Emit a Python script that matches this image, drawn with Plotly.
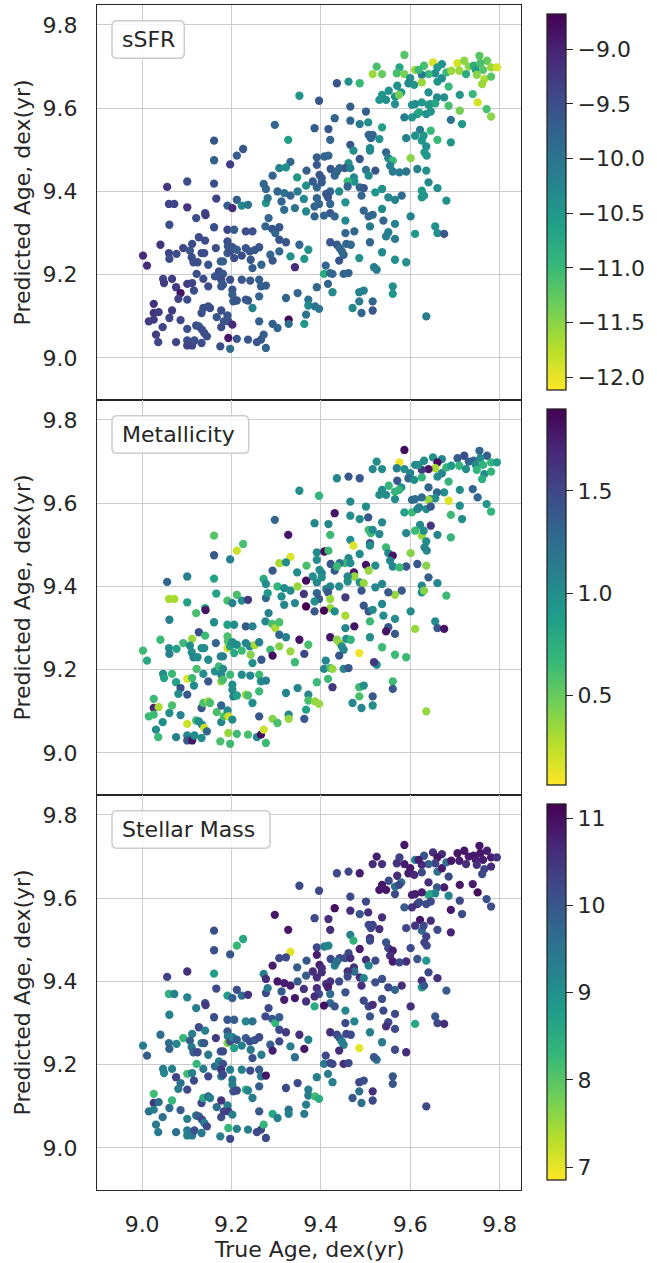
import plotly.graph_objects as go
from plotly.subplots import make_subplots

# ---- data: true vs predicted age, coloured by three galaxy properties ----
true_age = [
    9.352, 9.297, 9.327, 9.161, 9.226, 9.212, 9.161, 9.197, 9.332, 9.307,
    9.322, 9.292, 9.347, 9.368, 9.056, 9.101, 9.161, 9.272, 9.277, 9.367,
    9.060, 9.072, 9.101, 9.166, 9.191, 9.202, 9.212, 9.223, 9.237, 9.277,
    9.281, 9.303, 9.318, 9.332, 9.348, 9.312, 9.318, 9.342, 9.362, 9.367,
    9.121, 9.141, 9.142, 9.061, 9.161, 9.191, 9.206, 9.232, 9.247, 9.276,
    9.283, 9.291, 9.298, 9.307, 9.307, 9.322, 9.352, 9.372, 9.041, 9.002,
    9.011, 9.060, 9.061, 9.077, 9.092, 9.112, 9.107, 9.127, 9.141, 9.111,
    9.115, 9.124, 9.133, 9.139, 9.148, 9.165, 9.176, 9.181, 9.191, 9.192,
    9.191, 9.197, 9.202, 9.206, 9.212, 9.223, 9.232, 9.241, 9.243, 9.247,
    9.252, 9.262, 9.267, 9.287, 9.292, 9.307, 9.332, 9.342, 9.363, 9.047,
    9.049, 9.067, 9.076, 9.086, 9.081, 9.101, 9.101, 9.112, 9.116, 9.122,
    9.137, 9.148, 9.163, 9.172, 9.181, 9.177, 9.177, 9.181, 9.197, 9.202,
    9.202, 9.204, 9.212, 9.223, 9.232, 9.237, 9.242, 9.247, 9.262, 9.266,
    9.262, 9.277, 9.322, 9.348, 9.372, 9.372, 9.367, 9.328, 9.328, 9.363,
    9.026, 9.026, 9.037, 9.015, 9.026, 9.046, 9.061, 9.067, 9.086, 9.031,
    9.036, 9.076, 9.101, 9.101, 9.101, 9.112, 9.117, 9.121, 9.133, 9.137,
    9.148, 9.152, 9.127, 9.134, 9.139, 9.145, 9.133, 9.167, 9.177, 9.177,
    9.183, 9.191, 9.193, 9.202, 9.175, 9.193, 9.197, 9.212, 9.237, 9.257,
    9.266, 9.272, 9.277, 9.262, 9.292, 9.303,
    9.587, 9.525, 9.516, 9.537, 9.576, 9.570, 9.587, 9.611, 9.631, 9.651,
    9.671, 9.661, 9.656, 9.641, 9.626, 9.619, 9.600, 9.596, 9.609, 9.626,
    9.661, 9.671, 9.681, 9.692, 9.706, 9.721, 9.710, 9.725, 9.731, 9.742,
    9.755, 9.772, 9.757, 9.747, 9.763, 9.781, 9.794, 9.749, 9.766, 9.781,
    9.761, 9.686, 9.740, 9.711, 9.751, 9.771, 9.781, 9.711, 9.716, 9.686,
    9.691, 9.691, 9.676, 9.660, 9.641, 9.645, 9.656, 9.641, 9.626, 9.611,
    9.604, 9.587, 9.604, 9.616, 9.620, 9.636, 9.646, 9.622, 9.646, 9.611,
    9.626, 9.630, 9.661, 9.636, 9.632, 9.637, 9.591, 9.601, 9.616, 9.636,
    9.641, 9.591, 9.661, 9.681, 9.626, 9.626, 9.631, 9.581, 9.566, 9.551,
    9.537, 9.522, 9.537, 9.601, 9.656, 9.661, 9.676, 9.611, 9.566, 9.551,
    9.546, 9.566, 9.537, 9.566, 9.591, 9.525, 9.519, 9.561, 9.561, 9.486,
    9.496, 9.486, 9.516, 9.516, 9.491, 9.471, 9.636, 9.436, 9.462, 9.487,
    9.396, 9.466, 9.501, 9.431, 9.466, 9.487, 9.506, 9.386, 9.417, 9.421,
    9.507, 9.512, 9.516, 9.531, 9.537, 9.466, 9.473, 9.510, 9.510, 9.546,
    9.551, 9.561, 9.555, 9.561, 9.576, 9.522, 9.501, 9.507, 9.487, 9.462,
    9.454, 9.466, 9.442, 9.422, 9.431, 9.436, 9.474, 9.475, 9.460, 9.460,
    9.487, 9.496, 9.491, 9.441, 9.421, 9.412, 9.391, 9.391, 9.396, 9.416,
    9.421, 9.421, 9.431, 9.407, 9.386, 9.455, 9.455, 9.455, 9.496, 9.507,
    9.516, 9.510, 9.540, 9.475, 9.510, 9.421, 9.436, 9.442, 9.447, 9.457,
    9.467, 9.451, 9.441, 9.411, 9.407, 9.421, 9.426, 9.451, 9.462, 9.416,
    9.426, 9.391, 9.387, 9.396, 9.391, 9.391, 9.408, 9.417, 9.397, 9.402,
    9.382, 9.402, 9.386, 9.571, 9.580, 9.552, 9.537, 9.531, 9.546, 9.566,
    9.566, 9.575, 9.486,
]

pred_age = [
    9.630, 9.560, 9.524, 9.522, 9.502, 9.486, 9.475, 9.465, 9.471, 9.456,
    9.458, 9.438, 9.434, 9.450, 9.411, 9.424, 9.419, 9.418, 9.406, 9.414,
    9.370, 9.370, 9.362, 9.383, 9.366, 9.360, 9.380, 9.366, 9.368, 9.372,
    9.384, 9.400, 9.396, 9.390, 9.400, 9.376, 9.356, 9.360, 9.382, 9.352,
    9.336, 9.348, 9.343, 9.320, 9.314, 9.308, 9.308, 9.304, 9.304, 9.316,
    9.336, 9.310, 9.300, 9.314, 9.284, 9.278, 9.272, 9.260, 9.272, 9.246,
    9.222, 9.252, 9.238, 9.250, 9.264, 9.274, 9.258, 9.290, 9.282, 9.242,
    9.230, 9.230, 9.252, 9.252, 9.224, 9.264, 9.232, 9.232, 9.280, 9.268,
    9.252, 9.256, 9.266, 9.240, 9.260, 9.246, 9.264, 9.256, 9.236, 9.216,
    9.259, 9.266, 9.224, 9.248, 9.234, 9.256, 9.244, 9.218, 9.238, 9.190,
    9.180, 9.190, 9.170, 9.156, 9.142, 9.178, 9.140, 9.180, 9.162, 9.202,
    9.190, 9.172, 9.196, 9.208, 9.202, 9.188, 9.172, 9.176, 9.188, 9.164,
    9.152, 9.136, 9.138, 9.188, 9.140, 9.138, 9.186, 9.120, 9.188, 9.172,
    9.148, 9.174, 9.144, 9.156, 9.140, 9.126, 9.104, 9.092, 9.082, 9.082,
    9.130, 9.108, 9.110, 9.088, 9.092, 9.074, 9.096, 9.114, 9.091, 9.056,
    9.038, 9.038, 9.070, 9.042, 9.030, 9.030, 9.042, 9.078, 9.108, 9.120,
    9.124, 9.120, 9.076, 9.068, 9.060, 9.052, 9.036, 9.098, 9.114, 9.074,
    9.088, 9.102, 9.088, 9.080, 9.028, 9.048, 9.022, 9.046, 9.044, 9.038,
    9.044, 9.056, 9.024, 9.088, 9.082, 9.072,
    9.728, 9.700, 9.682, 9.682, 9.698, 9.684, 9.682, 9.692, 9.702, 9.710,
    9.706, 9.698, 9.684, 9.682, 9.680, 9.692, 9.672, 9.660, 9.656, 9.662,
    9.664, 9.672, 9.686, 9.690, 9.708, 9.714, 9.690, 9.682, 9.700, 9.702,
    9.726, 9.714, 9.708, 9.692, 9.692, 9.698, 9.698, 9.680, 9.670, 9.676,
    9.658, 9.652, 9.634, 9.632, 9.614, 9.598, 9.580, 9.594, 9.562, 9.606,
    9.572, 9.518, 9.626, 9.626, 9.638, 9.610, 9.612, 9.608, 9.614, 9.610,
    9.608, 9.578, 9.578, 9.586, 9.590, 9.586, 9.592, 9.548, 9.546, 9.534,
    9.522, 9.534, 9.524, 9.508, 9.494, 9.486, 9.528, 9.480, 9.454, 9.450,
    9.422, 9.448, 9.408, 9.378, 9.402, 9.386, 9.390, 9.390, 9.380, 9.386,
    9.406, 9.398, 9.358, 9.340, 9.316, 9.300, 9.298, 9.298, 9.322, 9.302,
    9.292, 9.286, 9.254, 9.236, 9.230, 9.212, 9.218, 9.172, 9.154, 9.158,
    9.162, 9.136, 9.136, 9.114, 9.108, 9.120, 9.100, 9.660, 9.664, 9.660,
    9.618, 9.604, 9.592, 9.576, 9.570, 9.562, 9.566, 9.552, 9.550, 9.524,
    9.536, 9.528, 9.536, 9.526, 9.554, 9.512, 9.498, 9.504, 9.498, 9.494,
    9.480, 9.474, 9.462, 9.448, 9.446, 9.450, 9.452, 9.438, 9.478, 9.468,
    9.456, 9.456, 9.456, 9.454, 9.438, 9.448, 9.434, 9.424, 9.424, 9.412,
    9.410, 9.408, 9.390, 9.400, 9.400, 9.394, 9.410, 9.384, 9.370, 9.386,
    9.370, 9.348, 9.340, 9.342, 9.340, 9.374, 9.330, 9.300, 9.354, 9.340,
    9.344, 9.316, 9.330, 9.304, 9.278, 9.278, 9.272, 9.264, 9.256, 9.274,
    9.272, 9.248, 9.234, 9.222, 9.202, 9.204, 9.202, 9.202, 9.204, 9.178,
    9.158, 9.170, 9.124, 9.118, 9.482, 9.464, 9.484, 9.486, 9.440, 9.432,
    9.424, 9.422, 9.364, 9.654, 9.638, 9.642, 9.632, 9.620, 9.620, 9.610,
    9.628, 9.632, 9.240,
]

ssfr = [
    -10.5, -9.8, -10.6, -9.6, -9.6, -9.7, -9.7, -9.3, -9.8, -10.2,
    -10.4, -9.8, -10.5, -9.7, -9.2, -9.5, -9.5, -9.8, -9.8, -10.4,
    -9.4, -9.4, -9.2, -9.4, -9.7, -9.1, -9.7, -10.3, -10.0, -10.5,
    -10.0, -9.8, -10.0, -9.8, -10.1, -9.8, -9.9, -10.0, -10.3, -10.3,
    -9.5, -9.4, -9.3, -9.5, -9.5, -9.4, -9.7, -9.5, -9.5, -9.8,
    -9.8, -9.6, -9.8, -9.6, -9.6, -9.6, -9.8, -10.4, -9.2, -9.1,
    -9.1, -9.4, -9.5, -9.5, -9.4, -9.5, -9.6, -9.5, -9.5, -9.5,
    -9.5, -9.5, -9.5, -9.5, -9.6, -9.5, -9.7, -9.7, -9.5, -9.6,
    -9.7, -9.5, -9.6, -9.5, -9.7, -9.5, -9.6, -9.6, -9.6, -9.7,
    -9.6, -9.6, -9.8, -9.8, -9.6, -9.8, -10.4, -9.1, -10.5, -9.4,
    -9.3, -9.3, -9.3, -8.85, -9.4, -9.3, -9.5, -9.4, -9.5, -9.5,
    -9.5, -9.5, -9.6, -9.5, -9.6, -9.5, -9.6, -9.6, -9.5, -9.6,
    -9.7, -9.7, -9.6, -9.6, -9.6, -9.6, -9.6, -10.2, -9.7, -9.7,
    -9.8, -9.7, -9.8, -9.8, -10.0, -10.3, -10.0, -8.7, -9.9, -10.5,
    -9.2, -9.2, -9.3, -9.3, -9.3, -9.4, -9.4, -9.3, -9.4, -9.3,
    -9.4, -9.4, -9.5, -9.5, -9.4, -9.4, -9.5, -9.5, -9.5, -9.5,
    -9.5, -9.5, -9.6, -9.5, -9.5, -9.5, -9.5, -9.6, -9.5, -9.5,
    -9.6, -9.6, -9.6, -9.1, -9.5, -8.9, -9.9, -9.6, -9.6, -9.6,
    -9.6, -9.7, -9.8, -9.7, -9.7, -9.8,
    -11.2, -11.1, -11.6, -11.3, -10.7, -11.1, -11.4, -11.6, -11.1, -11.9,
    -10.4, -10.5, -10.4, -11.0, -10.1, -11.0, -10.4, -10.3, -10.5, -11.6,
    -10.5, -10.4, -11.0, -11.6, -11.9, -11.5, -11.6, -10.8, -11.5, -10.9,
    -11.2, -11.3, -11.1, -10.6, -11.2, -11.6, -11.9, -11.5, -11.7, -11.2,
    -11.6, -11.0, -11.0, -10.5, -11.9, -11.1, -11.5, -11.4, -10.5, -11.1,
    -10.0, -10.5, -10.4, -10.3, -10.4, -10.4, -10.7, -10.5, -10.5, -10.3,
    -10.4, -10.1, -10.5, -10.4, -10.7, -10.4, -10.5, -10.1, -11.0, -10.4,
    -10.5, -10.5, -11.0, -10.4, -10.5, -10.5, -10.2, -11.5, -10.2, -10.4,
    -10.3, -10.0, -10.4, -10.4, -10.5, -10.5, -10.5, -9.9, -10.2, -10.3,
    -10.4, -10.5, -10.3, -10.2, -10.4, -10.4, -9.6, -10.5, -10.2, -10.2,
    -10.1, -10.1, -10.3, -10.4, -10.4, -10.1, -10.1, -10.4, -10.5, -10.2,
    -10.2, -10.1, -9.8, -9.6, -9.8, -10.3, -10.1, -9.6, -10.4, -11.0,
    -9.6, -9.7, -9.7, -9.8, -9.8, -10.1, -10.4, -9.7, -9.6, -9.8,
    -9.8, -9.8, -9.8, -10.4, -10.6, -9.6, -10.4, -10.3, -10.3, -9.8,
    -10.2, -11.0, -10.2, -10.1, -10.1, -9.6, -10.0, -10.3, -9.6, -10.4,
    -9.6, -10.2, -9.8, -9.6, -9.8, -9.8, -10.3, -10.4, -11.0, -9.8,
    -9.8, -9.6, -9.8, -10.3, -9.8, -9.6, -9.8, -9.8, -9.8, -9.6,
    -9.8, -9.6, -9.8, -9.8, -9.8, -10.4, -10.3, -9.8, -9.8, -9.8,
    -9.8, -10.1, -9.8, -9.8, -9.8, -9.6, -9.6, -9.8, -9.8, -9.8,
    -9.8, -9.8, -9.6, -9.8, -10.8, -9.8, -9.8, -9.8, -9.8, -9.8,
    -10.3, -9.8, -10.0, -10.0, -9.7, -9.6, -9.8, -9.8, -9.6, -9.6,
    -9.7, -9.7, -9.8, -10.4, -10.5, -10.4, -10.5, -10.5, -10.4, -10.4,
    -10.4, -11.4, -10.4,
]

metallicity = [
    1.0, 1.3, 1.8, 0.55, 0.6, 0.2, 1.4, 1.1, 0.15, 0.3,
    1.0, 1.4, 1.0, 0.6, 1.3, 1.1, 0.85, 0.8, 1.0, 1.85,
    0.3, 0.3, 0.85, 0.85, 0.6, 1.1, 0.6, 1.0, 1.6, 1.3,
    0.9, 0.7, 1.0, 1.0, 0.35, 1.0, 1.05, 1.05, 1.6, 1.9,
    0.6, 0.85, 1.8, 1.1, 1.0, 0.85, 1.0, 1.4, 1.1, 1.05,
    1.1, 0.6, 0.3, 0.6, 1.3, 1.1, 1.8, 0.6, 0.65, 0.65,
    0.8, 1.0, 1.1, 0.85, 0.65, 0.35, 1.0, 1.45, 0.65, 1.0,
    1.1, 1.0, 1.0, 1.0, 1.0, 1.3, 1.1, 1.1, 0.6, 0.6,
    0.2, 0.85, 1.0, 0.8, 1.0, 0.65, 1.05, 1.05, 0.4, 1.0,
    0.3, 1.1, 1.4, 0.65, 1.85, 0.4, 0.35, 0.65, 1.5, 1.0,
    0.85, 0.65, 0.85, 1.45, 1.0, 0.15, 1.4, 0.65, 1.0, 0.6,
    1.0, 1.4, 1.0, 0.65, 1.0, 1.05, 0.4, 0.6, 0.65, 1.0,
    1.0, 1.1, 0.85, 1.0, 0.35, 0.6, 1.05, 1.0, 0.65, 1.0,
    0.65, 1.1, 1.05, 1.05, 1.05, 0.6, 0.85, 1.05, 0.35, 1.4,
    0.65, 1.7, 0.3, 0.65, 0.65, 1.0, 1.0, 0.6, 1.1, 1.0,
    0.65, 1.1, 0.2, 1.05, 1.4, 1.8, 1.0, 0.65, 1.4, 0.6,
    0.35, 0.6, 1.0, 1.0, 0.2, 1.3, 1.0, 0.6, 1.3, 1.05,
    0.6, 1.0, 0.2, 1.0, 0.6, 0.35, 0.65, 0.65, 0.6, 1.05,
    1.85, 0.2, 0.65, 1.4, 0.4, 0.6,
    1.85, 1.0, 1.05, 1.0, 0.1, 1.1, 1.0, 1.0, 1.0, 1.0,
    1.05, 1.85, 0.3, 1.8, 1.6, 1.0, 1.05, 1.3, 1.0, 0.7,
    1.0, 1.05, 0.7, 0.9, 1.35, 1.45, 0.7, 1.0, 1.3, 1.3,
    1.3, 1.35, 1.0, 1.0, 0.7, 0.7, 0.9, 0.7, 1.0, 0.7,
    0.75, 0.7, 1.3, 1.0, 1.3, 0.95, 0.7, 1.0, 1.0, 0.15,
    0.65, 0.7, 1.0, 1.3, 1.3, 1.0, 1.0, 0.35, 1.25, 1.25,
    1.25, 0.85, 0.65, 1.0, 1.1, 1.0, 1.4, 1.0, 1.6, 0.65,
    0.35, 1.0, 1.05, 1.0, 1.05, 1.05, 1.05, 0.4, 1.4, 0.4,
    1.35, 1.4, 1.05, 0.65, 1.05, 1.0, 0.4, 1.4, 0.35, 1.4,
    1.05, 1.05, 1.05, 1.0, 1.0, 1.4, 1.8, 0.35, 1.0, 1.4,
    1.8, 1.4, 0.65, 0.65, 0.65, 1.0, 1.6, 0.65, 1.4, 0.65,
    1.0, 0.6, 1.4, 1.0, 1.05, 1.05, 0.35, 1.05, 1.4, 1.4,
    0.7, 1.05, 1.0, 1.8, 1.0, 1.0, 1.4, 1.05, 1.05, 0.65,
    0.65, 0.65, 1.0, 1.05, 1.05, 1.0, 0.15, 1.45, 1.0, 0.65,
    1.0, 1.8, 1.05, 1.05, 0.65, 1.0, 1.8, 0.35, 1.0, 1.05,
    0.65, 1.0, 1.2, 1.4, 1.4, 0.65, 1.8, 0.35, 1.05, 1.0,
    1.0, 0.35, 1.4, 1.0, 1.05, 1.1, 1.05, 1.3, 1.4, 1.4,
    0.35, 0.35, 1.0, 1.9, 1.4, 1.6, 0.3, 1.05, 1.4, 1.4,
    1.0, 0.65, 1.0, 1.8, 1.0, 1.8, 0.4, 0.35, 1.0, 1.0,
    0.7, 1.05, 1.4, 1.05, 1.05, 0.65, 0.35, 1.05, 1.4, 0.65,
    1.6, 0.65, 0.35, 0.35, 1.0, 1.0, 1.85, 0.65, 1.0, 1.05,
    1.0, 1.0, 1.0, 1.4, 1.0, 0.7, 1.0, 1.0, 1.0, 1.0,
    0.7, 0.7, 0.1,
]

stellar_mass = [
    10.2, 10.9, 10.9, 10.1, 8.6, 8.3, 10.1, 10.0, 7.0, 10.2,
    10.2, 10.8, 9.9, 10.0, 10.3, 10.6, 8.8, 9.3, 10.6, 9.9,
    8.4, 9.3, 9.2, 10.2, 8.8, 9.9, 10.1, 9.6, 10.5, 10.2,
    9.4, 10.9, 10.8, 10.8, 9.9, 9.9, 10.8, 10.9, 10.5, 10.6,
    9.3, 10.1, 10.4, 9.3, 10.1, 10.0, 9.9, 9.2, 9.6, 10.2,
    10.2, 10.0, 8.3, 9.9, 10.2, 10.4, 10.6, 9.3, 9.6, 9.3,
    9.9, 9.6, 9.8, 9.2, 8.3, 9.3, 9.9, 10.2, 9.3, 9.4,
    9.9, 10.2, 9.4, 10.0, 9.4, 10.4, 10.0, 10.2, 10.0, 9.4,
    7.7, 10.2, 9.2, 8.7, 9.9, 9.3, 9.9, 10.1, 9.4, 10.1,
    10.0, 10.2, 9.3, 9.9, 10.8, 10.2, 9.3, 9.6, 10.9, 9.3,
    9.2, 9.3, 10.3, 9.6, 9.4, 8.2, 10.2, 9.3, 10.2, 8.3,
    9.4, 10.2, 9.6, 9.3, 10.1, 10.5, 9.3, 10.2, 9.3, 9.4,
    9.3, 10.0, 10.2, 9.3, 8.3, 9.2, 10.2, 9.4, 9.9, 9.4,
    9.9, 10.9, 10.2, 10.2, 9.3, 9.4, 9.3, 9.6, 9.3, 9.4,
    8.2, 10.5, 9.6, 9.6, 9.3, 9.6, 9.6, 8.3, 9.9, 9.4,
    9.4, 9.6, 9.3, 9.3, 9.3, 9.4, 10.1, 9.6, 10.2, 8.5,
    9.7, 9.3, 9.9, 10.2, 9.3, 10.2, 9.4, 9.6, 10.5, 10.1,
    10.3, 9.3, 10.4, 9.3, 9.3, 8.3, 10.2, 9.3, 9.3, 10.2,
    10.2, 8.3, 10.2, 10.0, 8.6, 9.3,
    10.9, 10.8, 10.6, 10.6, 10.3, 10.5, 10.8, 9.3, 10.0, 10.6,
    10.6, 10.9, 10.3, 9.8, 10.6, 10.8, 10.9, 10.8, 10.7, 10.2,
    9.6, 10.8, 9.6, 10.9, 10.9, 10.9, 10.8, 10.6, 10.8, 10.9,
    10.9, 10.8, 10.9, 10.8, 10.8, 10.8, 10.5, 10.6, 10.3, 10.6,
    10.2, 10.2, 10.8, 10.9, 11.0, 10.1, 10.1, 10.2, 10.2, 9.2,
    10.9, 10.7, 10.8, 10.0, 10.6, 8.6, 9.2, 8.6, 10.8, 10.8,
    10.8, 9.9, 10.5, 10.6, 10.2, 10.2, 10.2, 10.9, 10.6, 10.5,
    9.7, 10.2, 10.2, 10.3, 10.3, 10.2, 10.2, 10.2, 10.0, 8.9,
    10.2, 10.6, 10.6, 9.9, 10.6, 8.8, 10.0, 10.6, 9.7, 10.2,
    10.1, 10.1, 10.1, 10.6, 10.0, 10.2, 10.6, 8.6, 10.2, 10.2,
    10.6, 10.2, 9.4, 10.2, 10.6, 9.6, 10.0, 10.0, 10.0, 10.2,
    10.1, 9.6, 10.6, 10.2, 9.6, 10.0, 10.2, 10.2, 10.2, 10.8,
    10.2, 10.2, 10.2, 11.0, 10.6, 10.0, 10.6, 10.2, 10.6, 10.6,
    10.2, 10.2, 10.2, 10.6, 10.6, 9.3, 8.4, 10.6, 10.2, 10.0,
    10.2, 10.8, 10.6, 10.8, 10.2, 10.2, 10.6, 9.2, 10.8, 10.2,
    10.0, 10.6, 10.2, 10.2, 9.3, 9.6, 10.6, 9.6, 10.6, 10.2,
    10.6, 9.2, 10.6, 10.2, 10.6, 10.6, 10.6, 10.6, 10.2, 10.8,
    9.6, 9.7, 10.0, 11.0, 8.5, 10.0, 9.2, 10.2, 10.2, 10.2,
    10.6, 10.0, 10.2, 9.2, 9.3, 10.6, 10.2, 10.0, 9.3, 10.2,
    10.2, 9.3, 10.6, 10.2, 9.4, 10.2, 10.2, 10.6, 10.2, 9.3,
    9.3, 9.3, 8.2, 8.5, 10.2, 10.8, 9.3, 9.2, 10.8, 10.6,
    10.6, 10.6, 10.6, 10.6, 9.6, 10.2, 10.9, 10.9, 10.9, 10.2,
    9.6, 10.2, 7.0,
]

panel_labels = ["sSFR", "Metallicity", "Stellar Mass"]
age_ticks = [9.0, 9.2, 9.4, 9.6, 9.8]
ssfr_ticks = [-9.0, -9.5, -10.0, -10.5, -11.0, -11.5, -12.0]
metal_ticks = [0.5, 1.0, 1.5]
mass_ticks = [7, 8, 9, 10, 11]
ssfr_range = [-12.12, -8.68]
metal_range = [0.06, 1.9]
mass_range = [6.85, 11.16]
age_range = [8.899, 9.848]

# ---- page geometry (pixels) ----
W, H = 657, 1263
ML, MR, MT, MB = 97, 136, 5, 73
PW = W - ML - MR
PH = H - MT - MB
PANEL_H = PH / 3
INK = "#262626"
FONT = "DejaVu Sans"


def paper_x(px):
    return (px - ML) / PW


def paper_y(py):
    return (H - MB - py) / PH


def minus(v, fmt):
    return format(v, fmt).replace("-", "\u2212")


fig = make_subplots(rows=3, cols=1, shared_xaxes=True, vertical_spacing=0)

colour_sets = [
    (ssfr, ssfr_range, ssfr_ticks, ".1f"),
    (metallicity, metal_range, metal_ticks, ".1f"),
    (stellar_mass, mass_range, mass_ticks, "d"),
]

layout_update = {}
for i, (values, vrange, ticks, fmt) in enumerate(colour_sets):
    axis_name = "coloraxis" if i == 0 else f"coloraxis{i + 1}"
    fig.add_trace(
        go.Scatter(
            x=true_age,
            y=pred_age,
            mode="markers",
            marker=dict(size=8.3, color=values, coloraxis=axis_name, line=dict(width=0)),
            showlegend=False,
            hoverinfo="skip",
        ),
        row=i + 1,
        col=1,
    )
    top = MT + i * PANEL_H
    cb_top = top + 9.5
    cb_bot = top + PANEL_H - 10
    layout_update[axis_name] = dict(
        colorscale="Viridis_r",
        cmin=vrange[0],
        cmax=vrange[1],
        colorbar=dict(
            x=paper_x(547),
            xanchor="left",
            xpad=0,
            ypad=0,
            y=(paper_y(cb_top) + paper_y(cb_bot)) / 2,
            yanchor="middle",
            len=paper_y(cb_top) - paper_y(cb_bot),
            lenmode="fraction",
            thickness=19,
            outlinewidth=1.3,
            outlinecolor=INK,
            ticks="outside",
            ticklen=7,
            tickwidth=1.3,
            tickcolor=INK,
            tickvals=ticks,
            ticktext=[minus(t, fmt) for t in ticks],
            tickfont=dict(family=FONT, size=22, color=INK),
        ),
    )
fig.update_layout(**layout_update)

axis_style = dict(
    showgrid=True,
    gridcolor="#cccccc",
    gridwidth=1.4,
    showline=True,
    linecolor=INK,
    linewidth=1.3,
    mirror=True,
    zeroline=False,
    ticks="",
    tickfont=dict(family=FONT, size=22, color=INK),
    ticklabelstandoff=14,
)
for r in range(1, 4):
    fig.update_xaxes(
        row=r, col=1, range=age_range, tickvals=age_ticks,
        ticktext=[minus(t, ".1f") for t in age_ticks],
        showticklabels=(r == 3), **axis_style,
    )
    fig.update_yaxes(
        row=r, col=1, range=age_range, tickvals=age_ticks,
        ticktext=[minus(t, ".1f") for t in age_ticks], **axis_style,
    )

shapes = []
annotations = []
box_widths = [72.3, 136.7, 158.0]
for i, label in enumerate(panel_labels):
    top = MT + i * PANEL_H
    # rounded label box in the panel's upper-left corner
    x0, x1 = paper_x(112), paper_x(112 + box_widths[i])
    yt, yb = paper_y(top + 15.7), paper_y(top + 53.3)
    rx, ry = 5 / PW, 5 / PH
    path = (
        f"M {x0 + rx},{yb} L {x1 - rx},{yb} Q {x1},{yb} {x1},{yb + ry} "
        f"L {x1},{yt - ry} Q {x1},{yt} {x1 - rx},{yt} "
        f"L {x0 + rx},{yt} Q {x0},{yt} {x0},{yt - ry} "
        f"L {x0},{yb + ry} Q {x0},{yb} {x0 + rx},{yb} Z"
    )
    shapes.append(dict(
        type="path", path=path, xref="paper", yref="paper",
        fillcolor="rgba(255,255,255,0.8)", line=dict(color="#cccccc", width=1.5),
        layer="above",
    ))
    annotations.append(dict(
        text=label, x=paper_x(119.5), y=paper_y(top + 34.5),
        xref="paper", yref="paper", xanchor="left", yanchor="middle",
        showarrow=False, font=dict(family=FONT, size=22, color=INK),
    ))
    annotations.append(dict(
        text="Predicted Age, dex(yr)", x=paper_x(22), y=paper_y(top + PANEL_H / 2),
        xref="paper", yref="paper", xanchor="center", yanchor="middle",
        textangle=-90, showarrow=False, font=dict(family=FONT, size=22, color=INK),
    ))

annotations.append(dict(
    text="True Age, dex(yr)", x=0.5, y=paper_y(1249),
    xref="paper", yref="paper", xanchor="center", yanchor="middle",
    showarrow=False, font=dict(family=FONT, size=22, color=INK),
))

fig.update_layout(
    width=W,
    height=H,
    margin=dict(l=ML, r=MR, t=MT, b=MB, autoexpand=False),
    paper_bgcolor="white",
    plot_bgcolor="white",
    font=dict(family=FONT, size=22, color=INK),
    shapes=shapes,
    annotations=annotations,
)

fig.write_html("out.html")
